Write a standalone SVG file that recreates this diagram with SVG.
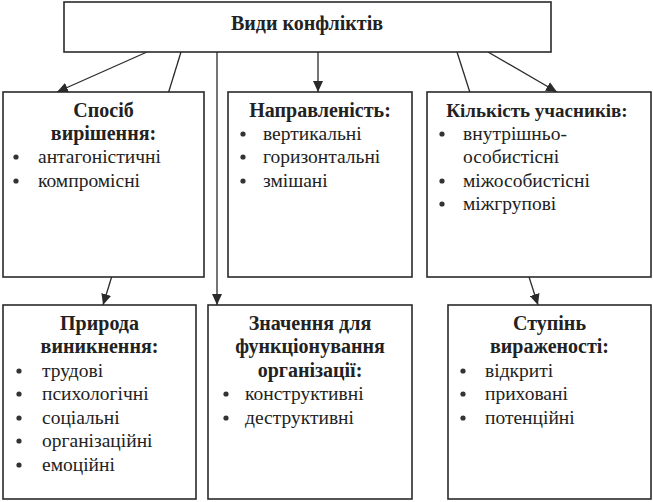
<svg xmlns="http://www.w3.org/2000/svg" width="653" height="502" viewBox="0 0 653 502">
<style>
.box{fill:#fff;stroke:#2a2a2a;stroke-width:1.6}
.ln{fill:none;stroke:#2a2a2a;stroke-width:1.3}
text{font-family:'Liberation Serif','DejaVu Serif',serif}
.t{font-size:19.5px;fill:#222}
.h{font-size:20px;font-weight:bold;fill:#222;text-anchor:middle}
.b{fill:#333}
</style>
<defs>
<marker id="ar" markerUnits="userSpaceOnUse" markerWidth="12" markerHeight="10" refX="11" refY="5" orient="auto">
<path d="M0,0 L11,5 L0,10 z" fill="#2a2a2a"/>
</marker>
</defs>
<rect width="653" height="502" fill="#fff"/>
<g id="connectors">
<line class="ln" x1="147" y1="52" x2="57" y2="92" marker-end="url(#ar)"/>
<line class="ln" x1="181" y1="52" x2="103" y2="305" marker-end="url(#ar)"/>
<line class="ln" x1="217" y1="52" x2="217" y2="305" marker-end="url(#ar)"/>
<line class="ln" x1="318" y1="52" x2="318" y2="92" marker-end="url(#ar)"/>
<line class="ln" x1="457" y1="52" x2="538" y2="305" marker-end="url(#ar)"/>
<line class="ln" x1="488" y1="52" x2="557" y2="92" marker-end="url(#ar)"/>
</g>
<g id="root">
<rect class="box" x="64" y="2" width="487" height="50"/>
<text class="h" x="307" y="30">Види конфліктів</text>
</g>
<g id="sposib">
<rect class="box" x="3" y="92" width="201" height="185"/>
<text class="h" x="103.5" y="117">Спосіб</text>
<text class="h" x="103.5" y="140">вирішення:</text>
<circle class="b" cx="16" cy="157" r="2.6"/><text class="t" x="38" y="163">антагоністичні</text>
<circle class="b" cx="16" cy="181" r="2.6"/><text class="t" x="38" y="187">компромісні</text>
</g>
<g id="napr">
<rect class="box" x="228" y="92" width="184" height="185"/>
<text class="h" x="320" y="117">Направленість:</text>
<circle class="b" cx="243" cy="134" r="2.6"/><text class="t" x="263" y="140">вертикальні</text>
<circle class="b" cx="243" cy="157" r="2.6"/><text class="t" x="263" y="163">горизонтальні</text>
<circle class="b" cx="243" cy="181" r="2.6"/><text class="t" x="263" y="187">змішані</text>
</g>
<g id="kilkist">
<rect class="box" x="427" y="92" width="224" height="185"/>
<text class="h" x="537" y="117" style="font-size:19px">Кількість учасників:</text>
<circle class="b" cx="442" cy="134" r="2.6"/><text class="t" x="463" y="140">внутрішньо-</text>
<text class="t" x="463" y="163">особистісні</text>
<circle class="b" cx="442" cy="181" r="2.6"/><text class="t" x="463" y="187">міжособистісні</text>
<circle class="b" cx="442" cy="204" r="2.6"/><text class="t" x="463" y="210">міжгрупові</text>
</g>
<g id="pryroda">
<rect class="box" x="3" y="305" width="193" height="194"/>
<text class="h" x="99.5" y="330">Природа</text>
<text class="h" x="99.5" y="353">виникнення:</text>
<circle class="b" cx="19" cy="371" r="2.6"/><text class="t" x="42" y="377">трудові</text>
<circle class="b" cx="19" cy="394" r="2.6"/><text class="t" x="42" y="400">психологічні</text>
<circle class="b" cx="19" cy="418" r="2.6"/><text class="t" x="42" y="424">соціальні</text>
<circle class="b" cx="19" cy="441" r="2.6"/><text class="t" x="42" y="447">організаційні</text>
<circle class="b" cx="19" cy="465" r="2.6"/><text class="t" x="42" y="471">емоційні</text>
</g>
<g id="znachennia">
<rect class="box" x="208" y="305" width="204" height="194"/>
<text class="h" x="310" y="330">Значення для</text>
<text class="h" x="310" y="353">функціонування</text>
<text class="h" x="310" y="377">організації:</text>
<circle class="b" cx="226" cy="394" r="2.6"/><text class="t" x="245" y="400">конструктивні</text>
<circle class="b" cx="226" cy="418" r="2.6"/><text class="t" x="245" y="424">деструктивні</text>
</g>
<g id="stupin">
<rect class="box" x="448" y="305" width="203" height="194"/>
<text class="h" x="549.5" y="330">Ступінь</text>
<text class="h" x="549.5" y="353">вираженості:</text>
<circle class="b" cx="463" cy="371" r="2.6"/><text class="t" x="485" y="377">відкриті</text>
<circle class="b" cx="463" cy="394" r="2.6"/><text class="t" x="485" y="400">приховані</text>
<circle class="b" cx="463" cy="418" r="2.6"/><text class="t" x="485" y="424">потенційні</text>
</g>
</svg>
